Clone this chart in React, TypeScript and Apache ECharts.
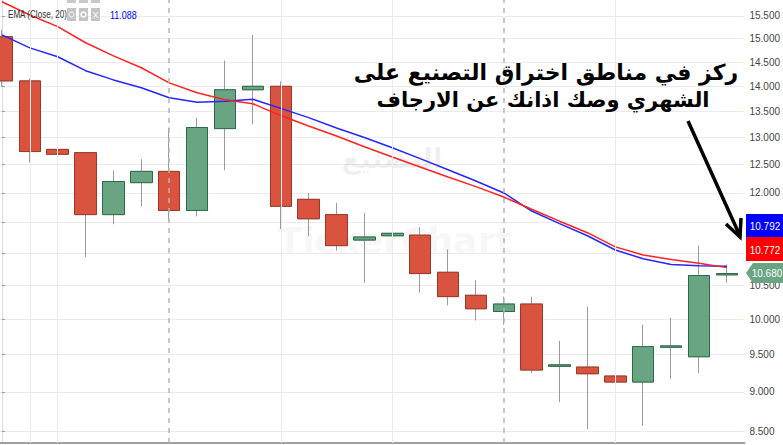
import React, { useEffect, useRef } from "react";
import * as echarts from "echarts";

// ---- data ----
const opens = [15.04, 14.11, 12.78, 12.72, 11.63, 12.18, 12.38, 11.7, 13.17, 13.93, 14.0, 11.89, 11.63, 11.21, 11.28, 11.29, 10.7, 10.35, 10.11, 10.22, 9.34, 9.33, 9.21, 9.13, 9.6, 9.47, 10.66];
const closes = [14.11, 12.74, 12.69, 11.63, 12.2, 12.38, 11.7, 13.19, 13.93, 14.0, 11.77, 11.56, 11.12, 11.26, 11.32, 10.68, 10.33, 10.15, 10.22, 9.29, 9.36, 9.24, 9.13, 9.61, 9.62, 10.65, 10.68];
const lows = [13.99, 12.54, 12.53, 10.94, 11.47, 11.77, 11.52, 11.6, 12.4, 13.25, 11.39, 11.27, 11.04, 10.54, 10.78, 10.39, 10.2, 9.98, 9.92, 9.25, 8.87, 8.53, 9.03, 8.57, 9.17, 9.25, 10.54];
const highs = [15.19, 14.16, 13.38, 12.72, 12.4, 12.6, 13.19, 13.37, 14.53, 15.08, 14.1, 12.0, 11.83, 11.66, 11.5, 11.42, 11.06, 10.58, 10.33, 10.33, 9.69, 10.18, 9.95, 9.92, 10.02, 11.12, 10.82];
const emaBlue = [15.08, 14.8, 14.61, 14.32, 14.13, 13.97, 13.77, 13.68, 13.7, 13.74, 13.56, 13.38, 13.18, 13.0, 12.81, 12.61, 12.41, 12.21, 12.0, 11.69, 11.48, 11.28, 11.05, 10.91, 10.82, 10.8, 10.792];
const emaRed = [15.82, 15.52, 15.26, 14.91, 14.63, 14.38, 14.07, 13.87, 13.73, 13.65, 13.42, 13.22, 13.03, 12.83, 12.64, 12.46, 12.28, 12.11, 11.93, 11.72, 11.52, 11.33, 11.1, 10.97, 10.9, 10.84, 10.772];
// price levels with grid lines; the labels for 11.000 and 11.500 are hidden behind the price tags
const yGridLevels = [8.5, 9, 9.5, 10, 10.5, 11, 11.5, 12, 12.5, 13, 13.5, 14, 14.5, 15, 15.5];
const yTickLabels = [8.5, 9, 9.5, 10, 10.5, 12, 12.5, 13, 13.5, 14, 14.5, 15, 15.5];
const solidGridX = [1, 2, 10, 14, 22];
const dashedGridX = [6, 18];
const legendText = "EMA (Close, 20)";
const legendValue = "11.088";
const noteLine1 = "ركز في مناطق اختراق التصنيع على";
const noteLine2 = "الشهري وصك اذانك عن الارجاف";

const L = Math.log;

export default function App() {
  const ref = useRef<HTMLDivElement>(null);
  useEffect(() => {
    if (!ref.current) return;
    const chart = echarts.init(ref.current, null, { renderer: "svg" });
    const idx = opens.map((_, i) => i);
    const wickData = idx.map((i) => [i, L(opens[i]), L(closes[i]), L(lows[i]), L(highs[i])]);
    const bodyData = idx.map((i) => [
      i,
      L(opens[i]),
      L(closes[i]),
      L(Math.min(opens[i], closes[i])),
      L(Math.max(opens[i], closes[i])),
    ]);
    const last = idx.length - 1;
    const axisFont = "'Liberation Sans', Arial, sans-serif";

    chart.setOption({
      animation: false,
      backgroundColor: "#ffffff",
      grid: { left: 0, right: 38, top: 0, bottom: 2 },
      xAxis: {
        type: "value",
        min: -0.07,
        max: 26.63,
        axisLabel: { show: false },
        axisTick: { show: false },
        splitLine: { show: false },
        axisLine: { show: true, lineStyle: { color: "#a0a0a0", width: 2 } },
      },
      yAxis: {
        type: "value",
        position: "right",
        min: L(8.36),
        max: L(15.86),
        axisLine: { show: true, lineStyle: { color: "#dcdcdc", width: 1 } },
        axisTick: { show: true, customValues: yGridLevels.map((v) => L(v)), length: 3, lineStyle: { color: "#999" } },
        axisLabel: {
          customValues: yTickLabels.map((v) => L(v)),
          formatter: (v: number) => Math.exp(v).toFixed(3),
          color: "#444",
          fontSize: 10,
          fontFamily: axisFont,
          margin: 5,
        },
        splitLine: { show: true, lineStyle: { color: "#ebebeb", width: 1 } },
      },
      series: [
        {
          type: "line",
          data: [],
          z: 0,
          silent: true,
          markLine: {
            silent: true,
            symbol: ["none", "none"],
            label: { show: false },
            animation: false,
            data: [
              ...solidGridX.map((x) => ({ xAxis: x, lineStyle: { color: "#ebebeb", width: 1, type: "solid" } })),
              ...dashedGridX.map((x) => ({ xAxis: x, lineStyle: { color: "#b5b5b5", width: 1.5, type: [5, 5] } })),
            ],
          },
        },
        {
          type: "candlestick",
          name: "wicks",
          z: 2,
          barWidth: 22,
          encode: { x: 0, y: [1, 2, 3, 4] },
          data: wickData,
          itemStyle: { color: "#9a9a9a", color0: "#9a9a9a", borderColor: "#9a9a9a", borderColor0: "#9a9a9a", borderWidth: 1 },
        },
        {
          type: "candlestick",
          name: "bodies",
          z: 3,
          barWidth: 22,
          encode: { x: 0, y: [1, 2, 3, 4] },
          data: bodyData,
          itemStyle: { color: "#69a583", color0: "#d9533f", borderColor: "#2c6b47", borderColor0: "#9b3828", borderWidth: 1 },
        },
        {
          type: "line",
          name: "EMA blue",
          z: 4,
          symbol: "none",
          data: idx.map((i) => [i, L(emaBlue[i])]),
          lineStyle: { color: "#2525ff", width: 1.5 },
        },
        {
          type: "line",
          name: "EMA red",
          z: 4,
          symbol: "none",
          data: idx.map((i) => [i, L(emaRed[i])]),
          lineStyle: { color: "#ff2222", width: 1.5 },
        },
      ],
      graphic: [
        // watermark
        { type: "text", z: 1, x: 392, y: 158, style: { text: "التصنيع", font: "bold 28px 'DejaVu Sans'", fill: "rgba(0,0,0,0.06)", textAlign: "center", textVerticalAlign: "middle" } },
        { type: "text", z: 1, x: 395, y: 240, style: { text: "TickerChart", font: "bold 36px 'DejaVu Sans'", fill: "rgba(0,0,0,0.05)", textAlign: "center", textVerticalAlign: "middle" } },
        // legend
        { type: "rect", z: 10, shape: { x: 67, y: 0, width: 9, height: 3 }, style: { fill: "#c8c8c8" } },
        { type: "rect", z: 10, shape: { x: 79, y: 0, width: 9, height: 3 }, style: { fill: "#c8c8c8" } },
        { type: "rect", z: 10, shape: { x: 91, y: 0, width: 9, height: 3 }, style: { fill: "#c8c8c8" } },
        { type: "text", z: 10, x: 8, y: 15, scaleX: 0.81, style: { text: legendText, font: "10px " + axisFont, fill: "#333", textVerticalAlign: "middle" } },
        { type: "rect", z: 10, shape: { x: 67, y: 8, width: 9, height: 13 }, style: { fill: "#c4c4c4" } },
        { type: "rect", z: 10, shape: { x: 79, y: 8, width: 9, height: 13 }, style: { fill: "#c4c4c4" } },
        { type: "rect", z: 10, shape: { x: 91, y: 8, width: 9, height: 13 }, style: { fill: "#c4c4c4" } },
        { type: "circle", z: 11, shape: { cx: 71.5, cy: 14.5, r: 2.5 }, style: { fill: "none", stroke: "#fff", lineWidth: 1 } },
        { type: "circle", z: 11, shape: { cx: 83.5, cy: 14.5, r: 2.5 }, style: { fill: "none", stroke: "#fff", lineWidth: 1.5 } },
        { type: "text", z: 11, x: 95.5, y: 15, style: { text: "X", font: "9px sans-serif", fill: "#fff", textAlign: "center", textVerticalAlign: "middle" } },
        { type: "text", z: 10, x: 110, y: 15, scaleX: 0.9, style: { text: legendValue, font: "10px " + axisFont, fill: "#0000ff", textVerticalAlign: "middle" } },
        // note
        { type: "text", z: 10, x: 546, y: 72, style: { text: noteLine1, font: "bold 22px 'DejaVu Sans'", fill: "#000", textAlign: "center", textVerticalAlign: "middle" } },
        { type: "text", z: 10, x: 543, y: 100, style: { text: noteLine2, font: "bold 21px 'DejaVu Sans'", fill: "#000", textAlign: "center", textVerticalAlign: "middle" } },
        // arrow
        { type: "line", z: 10, shape: { x1: 688, y1: 121, x2: 740, y2: 236 }, style: { stroke: "#000", lineWidth: 3.5 } },
        { type: "polyline", z: 10, shape: { points: [[726, 224], [740, 237], [741, 218]] }, style: { stroke: "#000", lineWidth: 3.5, fill: "none" } },
        // price tags
        { type: "rect", z: 10, shape: { x: 746, y: 214, width: 37, height: 23 }, style: { fill: "#0000ff" } },
        { type: "text", z: 11, x: 765, y: 226, style: { text: emaBlue[last].toFixed(3), font: "10px " + axisFont, fill: "#fff", textAlign: "center", textVerticalAlign: "middle" } },
        { type: "rect", z: 10, shape: { x: 746, y: 237, width: 37, height: 24 }, style: { fill: "#ff0000" } },
        { type: "text", z: 11, x: 765, y: 250, style: { text: emaRed[last].toFixed(3), font: "10px " + axisFont, fill: "#fff", textAlign: "center", textVerticalAlign: "middle" } },
        { type: "polygon", z: 10, shape: { points: [[746, 273], [753, 263], [783, 263], [783, 283], [753, 283]] }, style: { fill: "#69a583" } },
        { type: "text", z: 11, x: 767, y: 273, style: { text: closes[last].toFixed(3), font: "10px " + axisFont, fill: "#fff", textAlign: "center", textVerticalAlign: "middle" } },
      ],
    });
    return () => chart.dispose();
  }, []);
  return <div ref={ref} style={{ position: "fixed", left: 0, top: 0, width: 783, height: 445 }} />;
}
